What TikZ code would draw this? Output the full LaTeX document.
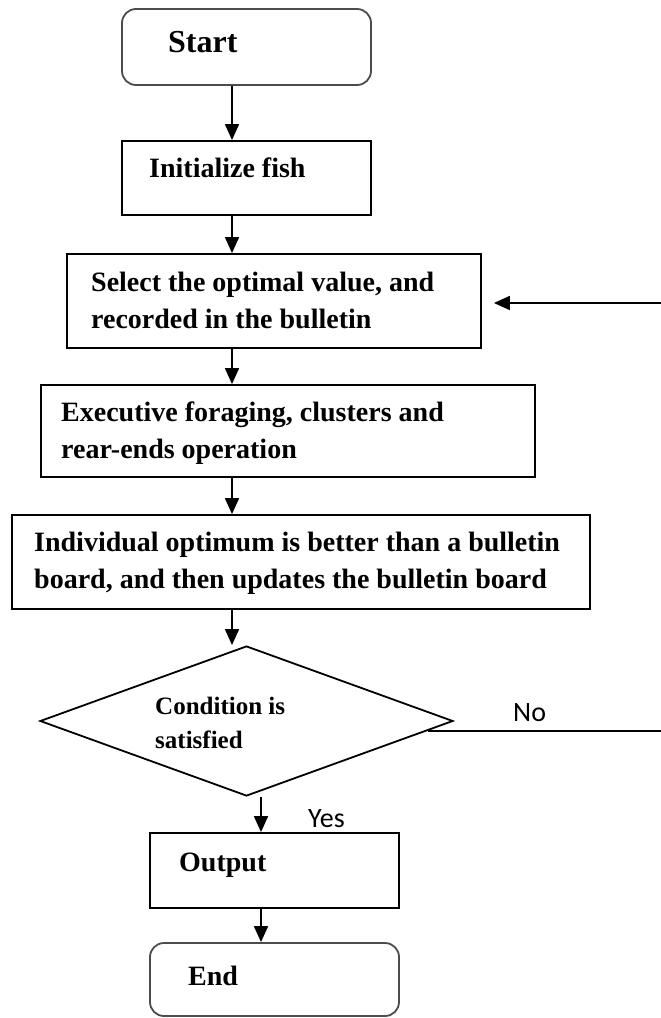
\documentclass[tikz,border=0pt]{standalone}
\usepackage{fontspec}
\setmainfont{Liberation Serif}
\newfontfamily\answerfont{Carlito}
\usetikzlibrary{shapes.geometric,arrows.meta}
\tikzset{
	box/.style={draw, line width=1.8pt, inner sep=0pt},
	term/.style={box, draw=black!70, rounded corners=14pt},
	txt/.style={anchor=west, align=left, inner sep=0pt, font=\bfseries\fontsize{28}{37}\selectfont},
	answer/.style={anchor=west, inner sep=0pt, font=\answerfont\fontsize{28}{34}\selectfont},
	flow/.style={line width=1.8pt, -{Triangle[width=14pt,length=16pt]}}
}
\begin{document}
\begin{tikzpicture}[x=1pt,y=-1pt]
	\useasboundingbox (0,0) rectangle (661,1018);
	% shapes
	\node[term, minimum width=249pt, minimum height=76pt] (start) at (246.5,47) {};
	\node[box, minimum width=249pt, minimum height=74pt] (init) at (246.5,178) {};
	\node[box, minimum width=414pt, minimum height=94pt] (select) at (274,301) {};
	\node[box, minimum width=494pt, minimum height=92pt] (exec) at (288,431) {};
	\node[box, minimum width=578pt, minimum height=94pt] (indiv) at (301,562) {};
	\node[box, diamond, minimum width=413pt, minimum height=150pt] (cond) at (246.5,721) {};
	\node[box, minimum width=249pt, minimum height=75pt] (output) at (274.5,870.5) {};
	\node[term, minimum width=249pt, minimum height=73pt] (end) at (274.5,979.5) {};
	% texts
	\node[txt, font=\bfseries\fontsize{32}{37}\selectfont] (tstart) at (168,42) {Start};
	\node[txt] (tinit) at (149,167.5) {Initialize fish};
	\node[txt] (tselect) at (91,300.5) {Select the optimal value, and\\recorded in the bulletin};
	\node[txt] (texec) at (61,433) {Executive foraging, clusters and\\rear-ends operation};
	\node[txt] (tindiv) at (34,563) {Individual optimum is better than a bulletin\\board, and then updates the bulletin board};
	\node[txt, font=\bfseries\fontsize{25}{34}\selectfont] (tcond) at (155,723) {Condition is\\satisfied};
	\node[txt] (toutput) at (179,865) {Output};
	\node[txt] (tend) at (188,975.5) {End};
	\node[answer] (yes) at (308,819) {Yes};
	\node[answer] (no) at (513,712.5) {No};
	% connectors
	\coordinate (colA) at (232,0);
	\coordinate (colB) at (261,0);
	\coordinate (noend) at (661,731);
	\coordinate (backend) at (661,303);
	\draw[flow] (start.south -| colA) -- (init.north -| colA);
	\draw[flow] (init.south -| colA) -- (select.north -| colA);
	\draw[flow] (select.south -| colA) -- (exec.north -| colA);
	\draw[flow] (exec.south -| colA) -- (indiv.north -| colA);
	\draw[flow] (indiv.south -| colA) -- (cond.north -| colA);
	\draw[flow] (cond.south -| colB) -- (output.north -| colB);
	\draw[flow] (output.south -| colB) -- (end.north -| colB);
	\draw[line width=1.8pt] (cond.-3 |- noend) -- (noend);
	\draw[flow] (backend) -- ([xshift=12pt]backend -| select.east);
\end{tikzpicture}
\end{document}
